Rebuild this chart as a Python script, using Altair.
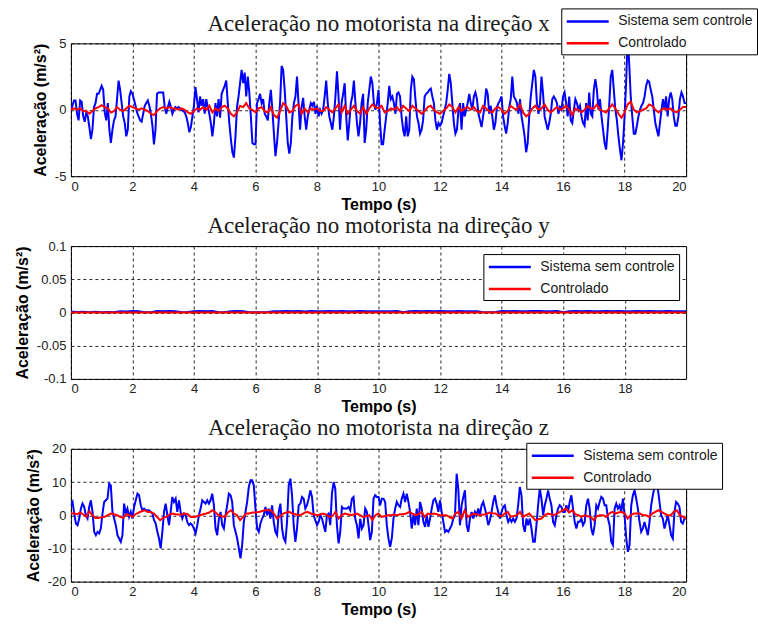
import altair as alt
import pandas as pd

series = ["Sistema sem controle", "Controlado"]
colors = ["#0000ff", "#ff0000"]

# time grids (s)
t_xb = [round(i * 0.05, 2) for i in range(401)]       # x, uncontrolled
t_01 = [round(i * 0.1, 1) for i in range(201)]        # controlled (x and z)
t_y = [round(i * 0.2, 1) for i in range(101)]         # y direction
t_zb = [round(i * 20 / 370, 4) for i in range(371)]   # z, uncontrolled

# ---- direction x (m/s^2) ----
x_sem = [
    0.0, 0.3, 0.7, 0.7, -0.3, -0.8, 0.7, 0.6, -0.5, -0.9,
    -0.2, -0.5, -1.3, -2.2, -1.5, 0.2, 0.5, 1.2, 1.2, 1.5,
    1.8, 1.5, -0.2, -0.8, 0.5, -1.5, -2.5, -1.5, -0.8, -0.5,
    0.8, 2.2, 1.5, 0.5, -0.5, -1.0, -2.0, -1.5, 1.0, 1.4,
    1.2, 0.8, 0.3, -0.2, -0.5, -0.8, -0.9, -0.3, 0.3, 0.5,
    0.7, 0.3, -0.3, -1.2, -2.6, -1.5, 1.2, 1.3, 1.3, 1.3,
    1.3, 0.2, -0.3, 0.2, 0.6, 0.2, -0.3, 0.0, 0.2, 0.1,
    0.2, 0.1, 0.0, -0.1, -0.2, -0.5, -1.0, -1.7, -1.3, -0.5,
    0.3, 1.7, 0.8, -0.2, 1.0, 0.3, 0.8, -0.3, 0.8, 0.2,
    -0.3, -1.0, -2.0, -1.0, 0.5, -0.5, 0.8, -0.6, 1.2, 1.5,
    1.8, 2.2, 0.5, -1.0, -2.2, -3.2, -3.6, -2.0, 0.2, 1.0,
    2.0, 3.0, 2.0, 2.8, 1.0, 2.5, 1.3, -0.5, -2.5, -2.6,
    -2.6, 0.5, 0.8, 1.2, 0.5, 0.8, -0.3, -0.5, -0.8, 0.5,
    1.5, 0.0, -1.8, -3.5, -2.5, -1.0, 0.5, 3.3, 3.0, 1.5,
    -0.5, -2.5, -3.3, -2.5, -0.5, 0.5, 1.0, 2.5, 0.5, -1.5,
    0.2, 0.9, -0.5, -1.5, -0.5, 0.0, 0.5, 0.3, 0.6, -0.3,
    0.3, -0.5, 0.0, -0.3, 0.0, 1.0, 2.2, 0.5, -0.5, -1.0,
    -1.5, -0.5, 1.0, 2.9, 1.0, -1.5, 0.5, 1.2, 2.0, -0.5,
    -2.3, -1.0, 0.5, 1.0, 2.2, 0.5, -1.0, -2.0, -1.0, 0.5,
    1.2, -2.5, -1.5, 0.5, 1.5, 2.5, 2.0, 0.5, 0.0, 0.5,
    1.5, -1.0, -2.6, -2.6, -1.5, -0.5, 0.5, 1.8, 0.8, 1.0,
    0.5, -0.3, 1.2, 1.3, 1.0, -0.5, -1.5, -2.0, -0.5, -2.0,
    -1.5, 1.5, 2.5, 2.3, 0.8, -0.5, -1.0, -1.8, -1.5, -0.8,
    1.0, 1.2, 1.3, 1.5, 1.6, 1.0, 0.5, -0.8, -1.5, -1.0,
    -1.2, -1.0, -0.5, 0.0, 0.5, 1.5, 2.7, 2.0, 0.5, -1.0,
    -1.8, -1.5, 0.0, 0.5, -1.5, 0.5, -0.5, 0.0, 0.5, 1.2,
    0.5, 0.0, 1.0, 1.3, 0.8, -0.3, -0.8, -1.3, -0.5, 0.3,
    1.6, 1.2, -0.3, 0.3, -0.5, -1.5, -1.0, 0.2, 0.5, 0.7,
    1.0, -0.5, -1.2, -1.8, -1.0, 0.2, 0.8, 2.5, 1.0, 0.8,
    0.5, -0.3, 0.8, -0.5, -1.2, -2.0, -3.2, -2.5, -0.5, 1.0,
    2.0, 3.0, 2.5, 0.5, -0.3, 0.5, 2.5, 1.2, -0.5, -1.0,
    -1.5, -1.0, -0.3, 0.8, 1.0, 0.8, 0.5, -0.3, 0.2, 0.0,
    1.0, 1.3, 0.5, -0.5, 1.0, -0.8, -1.0, 0.0, 0.8, 0.5,
    0.0, 0.3, -0.5, -1.0, -1.2, 0.5, -0.8, 1.3, -0.3, -0.5,
    1.5, 2.3, 1.5, 0.0, 0.8, -0.5, -1.5, -2.5, -3.0, -1.5,
    0.3, 2.5, 3.0, 1.5, 0.0, -0.8, -2.0, -3.0, -3.8, -2.5,
    -0.5, 2.0, 5.5, 3.5, 1.0, -0.5, -1.8, -1.8, -1.2, -0.5,
    0.0, 0.3, 0.5, 1.0, 1.8, 2.2, 2.1, 1.5, 1.0, 0.0,
    -1.0, -1.5, -2.0, -1.0, 0.0, 0.8, 0.0, 1.0, -0.5, 0.8,
    1.3, 0.8, -0.5, -1.2, -1.2, -0.5, 0.8, 1.3, 1.0, 0.5,
    0.5,
]
x_con = [
    0.0, 0.1, 0.0, 0.1, -0.1, -0.1, -0.3, -0.1, 0.1, 0.2,
    0.35, 0.2, 0.1, -0.2, -0.1, 0.2, 0.0, -0.1, 0.1, 0.3,
    0.2, 0.1, 0.0, 0.1, 0.0, -0.1, -0.3, -0.4, -0.1, 0.1,
    0.2, 0.1, 0.2, 0.1, 0.1, 0.0, 0.1, 0.0, -0.2, -0.3,
    -0.1, 0.1, 0.0, 0.2, 0.0, 0.3, -0.2, 0.1, -0.1, 0.2,
    0.3, 0.1, -0.3, -0.5, -0.2, 0.3, 0.2, 0.5, 0.1, 0.0,
    -0.2, 0.1, 0.2, -0.1, -0.2, 0.2, -0.4, -0.6, -0.1, 0.5,
    0.3, -0.2, -0.1, 0.3, 0.4, -0.3, 0.1, -0.2, 0.1, 0.0,
    0.1, -0.1, -0.1, 0.2, 0.0, -0.2, 0.1, 0.4, -0.2, 0.3,
    -0.3, 0.0, 0.3, -0.1, -0.3, 0.2, -0.3, 0.1, 0.4, 0.2,
    0.1, 0.3, -0.2, -0.1, 0.1, 0.0, 0.2, -0.1, 0.3, 0.1,
    -0.1, 0.3, 0.1, -0.1, -0.3, -0.1, 0.2, 0.3, 0.0, -0.2,
    -0.3, -0.1, 0.1, 0.4, 0.2, -0.2, 0.2, -0.1, 0.1, 0.2,
    0.0, 0.2, -0.1, -0.2, 0.3, 0.1, -0.1, -0.2, 0.1, 0.2,
    0.0, -0.3, -0.1, 0.3, 0.1, 0.0, 0.4, -0.2, -0.5, -0.3,
    0.1, 0.3, 0.0, 0.1, 0.4, 0.0, -0.2, 0.0, 0.2, 0.0,
    0.1, 0.3, 0.0, -0.4, 0.1, 0.0, -0.2, 0.0, 0.3, 0.1,
    0.1, 0.4, 0.0, -0.1, -0.2, 0.1, 0.4, 0.1, -0.3, -0.6,
    -0.2, 0.4, 0.6, 0.0, -0.2, -0.1, 0.0, 0.1, 0.4, 0.3,
    0.0, -0.2, 0.0, 0.1, 0.0, 0.1, -0.1, -0.2, 0.0, 0.2,
    0.2,
]

# ---- direction y (m/s^2) ----
y_sem = [
    0.0016, 0.0006, 0.0013, 0.0005, 0.0010, 0.0003, 0.0008, 0.0005,
    0.0020, 0.0015, 0.0022, 0.0017,
    0.0005, 0.0003,
    0.0022, 0.0017, 0.0024, 0.0019,
    0.0003, 0.0007,
    0.0020, 0.0024, 0.0017, 0.0022,
    0.0005, 0.0003,
    0.0020, 0.0024, 0.0017,
    0.0003, 0.0005, 0.0003, 0.0007,
    0.0020, 0.0017, 0.0024, 0.0019, 0.0022, 0.0015, 0.0024, 0.0020, 0.0017,
    0.0022, 0.0019, 0.0024, 0.0020, 0.0017, 0.0022, 0.0019, 0.0020, 0.0017,
    0.0020, 0.0017, 0.0022,
    0.0005,
    0.0020, 0.0024, 0.0019, 0.0022, 0.0017, 0.0024, 0.0020, 0.0019, 0.0022, 0.0017, 0.0020, 0.0019,
    0.0005, 0.0003, 0.0007,
    0.0022, 0.0019, 0.0024, 0.0020, 0.0017, 0.0022, 0.0024, 0.0019, 0.0020, 0.0022,
    0.0005,
    0.0020, 0.0024, 0.0019, 0.0022, 0.0017, 0.0020, 0.0024, 0.0019,
    0.0022, 0.0020, 0.0017, 0.0022, 0.0019, 0.0024, 0.0020, 0.0017,
    0.0022, 0.0019, 0.0020, 0.0017,
]
y_con = [
    0.0, 0.0, 0.0, 0.0, 0.0, 0.0, 0.0, 0.0, 0.0, 0.0,
    0.0, 0.0, 0.0, 0.0, 0.0, 0.0, 0.0, 0.0, 0.0, 0.0,
    0.0, 0.0, 0.0, 0.0, 0.0, 0.0, 0.0, 0.0, 0.0, 0.0,
    0.0, 0.0, 0.0, 0.0, 0.0, 0.0, 0.0, 0.0, 0.0, 0.0,
    0.0, 0.0, 0.0, 0.0, 0.0, 0.0, 0.0, 0.0, 0.0, 0.0,
    0.0, 0.0, 0.0, 0.0, 0.0, 0.0, 0.0, 0.0, 0.0, 0.0,
    0.0, 0.0, 0.0, 0.0, 0.0, 0.0, 0.0, 0.0, 0.0, 0.0,
    0.0, 0.0, 0.0, 0.0, 0.0, 0.0, 0.0, 0.0, 0.0, 0.0,
    0.0, 0.0, 0.0, 0.0, 0.0, 0.0, 0.0, 0.0, 0.0, 0.0,
    0.0, 0.0, 0.0, 0.0, 0.0, 0.0, 0.0, 0.0, 0.0, 0.0,
    0.0,
]

# ---- direction z (m/s^2) ----
z_sem = [
    3.0, 4.0, 0.5, -2.5, -3.0, -1.0, 2.0, 3.5, 2.5, 0.0,
    -1.0, 2.5, 4.5, 1.0, -5.0, -6.0, -5.0, -5.5, -4.0, 0.5,
    4.0, 4.5, 5.0, 9.5, 9.0, 1.0, -1.0, -3.0, -6.0, -7.0,
    -8.0, -6.0, 3.5, 0.5, 2.0, -0.5, 1.0, -1.0, 2.5, 4.5,
    6.5, 6.0, 3.0, 1.5, 2.0, 1.5, 1.5, 1.5, 1.0, 0.5,
    -1.5, -2.5, -5.0, -7.0, -10.0, -5.0, 1.0, 3.5, 0.0, -3.0,
    1.0, 5.5, 4.0, 5.0, 1.0, 4.5, 1.0, -1.0, 0.5, 0.0,
    -2.0, -3.0, -2.5, -3.0, -4.0, -5.5, -3.0, 0.0, 2.0, 4.5,
    4.0, 3.5, 4.5, 3.5, 4.5, 6.5, 3.0, -4.0, -6.0, -1.0,
    1.0, -3.0, -4.0, 0.0, 3.0, 6.5, 6.0, 4.0, -3.0, -5.0,
    -7.0, -10.0, -13.0, -9.0, -2.0, 1.0, 4.0, 8.5, 10.5, 10.5,
    9.0, 2.0, -4.0, -5.0, -2.5, -1.0, 0.0, 2.5, 0.0, 2.0,
    -1.0, 3.0, -2.0, -5.0, -6.0, 1.0, 3.5, -4.0, -7.0, -8.0,
    -2.0, 9.0, 11.0, 6.0, -3.0, -8.0, -4.0, 3.0, 3.5, 5.5,
    5.0, 2.0, 3.0, 5.0, 7.5, 5.5, 0.0, -1.5, -3.0, -2.0,
    0.0, -1.0, -3.0, -5.0, 0.0, 0.5, -3.0, 6.5, 10.0, 8.0,
    -3.0, -8.5, -5.0, 2.5, 2.0, 2.0, 2.0, 2.5, 1.5, 5.0,
    5.5, -1.0, -3.0, -7.0, -1.0, -4.0, -3.0, 2.0, 1.0, -3.0,
    -7.5, -5.0, 5.0, 6.0,
    5.5, 5.5, 3.0, 5.0, 5.0, 4.0, -3.0, -7.0, -9.5, -7.0,
    -1.0, 2.0, 4.0, 3.0, 2.5, 5.0, 6.5, 4.0, 6.5, 4.0,
    1.0, -4.0, 0.0, -3.0, 2.0, -3.0, 4.0, 2.0, -2.0, -3.5,
    0.0, -3.5, -1.0, 2.0, 4.5, 5.0, 3.5, 1.0, 4.5, 1.0,
    -2.0, -5.0, -4.5, -5.0, -4.0, -3.0, -1.0, 0.0, 12.5, 8.0,
    -3.0, 3.0, 5.5, 7.5, -3.0, -5.0, -1.0, 1.0, -1.0, 1.0,
    0.0, 2.0, 0.0, 3.0, 4.0, 2.0, 0.0, -3.0, -1.5, 1.0,
    4.0, 6.0, 3.0, 1.0, -1.0, 1.0, 2.5, 3.0, 0.0, -2.0,
    -1.0, -2.0, -1.0, -2.0, -1.0, 3.0, 8.5, 6.0, -3.0, -5.0,
    -1.0, -3.0, -1.0, -4.0, -8.0, -8.0, -3.0, 3.0, 8.0, 5.0,
    0.0, 3.0, 5.0, 7.5, 5.0, 3.0, -2.0, -3.0, 0.0, 2.0,
    3.0, 2.5, 1.0, 1.0, 3.0, 1.0, 4.0, 6.0, 2.0, -2.0,
    -4.0, -2.0, -2.0, -1.0, -3.0, -2.0, 3.0, 5.0, 2.0, -4.0,
    -6.0, -3.0, 3.0, 2.0, 4.0, 5.5, 5.0, 3.0, 3.0, -1.0,
    -3.0, -8.0, -9.0, 2.0, 3.5, 2.0, 3.0, 1.0, 5.0, 0.0,
    -7.0, -11.0, -9.0, 3.0, 6.0, 7.5, 5.0, 2.0, -2.0, -5.0,
    -4.0, -2.0, -4.0, -6.0, -2.0, 3.0, 6.0, 8.5, 9.0, 8.0,
    4.0, 0.0, -1.0, -4.0, -2.0, 0.0, -3.0, -6.0, -7.0, 1.0,
    4.0, 3.5, 2.5, -2.0, -2.5, -1.0, -1.0,
]
z_con = [
    0.5, 0.5, 0.3, 0.8, 0.3, -0.5, 1.2, 0.0, -0.8, -0.8,
    -0.6, -0.5, 0.0, 0.5, 0.3, 0.0, -0.5, -0.8, 0.3, 0.0,
    -0.5, 0.3, 0.8, 1.2, 1.5, 1.0, 1.0, 0.5, -0.5, -1.5,
    -0.8, -0.5, 0.2, 0.5, 0.3, 0.2, 0.2, 0.5, 0.3, -0.5,
    -0.5, -0.3, 0.0, 0.3, 0.5, 0.8, 1.5, 0.8, 0.0, -0.3,
    -0.5, 0.8, 1.5, 0.5, 0.0, -1.5, -0.5, 0.5, 0.5, 0.8,
    0.8, 1.0, 1.2, 1.5, 1.5, 1.5, 0.5, -1.0, -0.3, 0.5,
    0.8, 1.0, 0.5, 0.3, 0.0, 0.2, 0.8, 1.0, 0.5, 0.3,
    0.0, 0.2, 0.5, 0.2, -0.5, -0.3, 1.0, -1.0, 0.0, 0.5,
    0.3, 0.0, 0.2, 0.5, 0.0, -0.5, -0.3, 0.0, -1.5, 0.0,
    0.5, -0.5, -0.3, 0.0, 0.0, 0.2, 0.0, 0.3, 0.3, 0.5,
    1.0, 0.5, 0.0, 0.3, 1.0, -0.5, 0.5, 0.3, 0.5, 0.3,
    0.0, 0.0, 0.0, -0.5, -1.0, 0.5, 1.0, -1.0, 1.5, -0.5,
    0.0, 0.5, 0.2, 0.0, 0.2, 0.3, 0.8, 0.6, 0.5, 0.0,
    -0.3, 0.5, 1.0, -0.5, -0.2, 0.0, 1.0, -0.5, 0.0, 0.5,
    -0.5, -1.5, -1.2, -1.0, 0.0, 0.5, 0.3, 0.0, 0.5, 1.0,
    1.5, 2.0, 0.8, 1.5, 0.3, 0.0, -0.5, 0.0, -0.3, -0.5,
    -1.5, -0.3, 0.0, 0.0, -0.5, 0.5, 1.0, 0.5, 0.8, 1.0,
    0.5, -1.0, 0.0, 0.5, 0.5, 0.5, 0.0, 0.0, -0.5, 0.5,
    1.0, 1.5, 1.0, 0.5, 0.0, 0.0, 1.0, 1.5, 0.0, -0.5,
    -1.0,
]

titles = [
    "Aceleração no motorista na direção x",
    "Aceleração no motorista na direção y",
    "Aceleração no motorista na direção z",
]
x_ticks = [0, 2, 4, 6, 8, 10, 12, 14, 16, 18, 20]
y_ticks_x = [-5, 0, 5]
y_ticks_y = [-0.1, -0.05, 0, 0.05, 0.1]
y_ticks_z = [-20, -10, 0, 10, 20]


def long_df(t_sem, sem, t_con, con):
    return pd.DataFrame({
        "t": list(t_sem) + list(t_con),
        "a": list(sem) + list(con),
        "serie": [series[0]] * len(sem) + [series[1]] * len(con),
    })


W, H = 616, 133


def panel(df, title, xmax, ydom, yticks, lx, ly, tdy):
    base = alt.Chart(df).encode(
        x=alt.X("t:Q",
                scale=alt.Scale(domain=[0, xmax], nice=False, zero=False),
                axis=alt.Axis(values=x_ticks, title="Tempo (s)")),
        y=alt.Y("a:Q",
                scale=alt.Scale(domain=ydom, nice=False),
                axis=alt.Axis(values=yticks, title="Aceleração (m/s²)",
                              labelExpr="'' + datum.value")),
        color=alt.Color("serie:N",
                        scale=alt.Scale(domain=series, range=colors),
                        legend=alt.Legend(
                            orient="none", legendX=lx, legendY=ly, title=None,
                            symbolType="M-1,0H4.6", symbolSize=225,
                            symbolStrokeWidth=2.5,
                            labelFont="Liberation Sans", labelFontSize=14,
                            labelColor="#1a1a1a", labelOffset=35, labelLimit=300,
                            strokeColor="#000000", fillColor="#ffffff",
                            padding=4, rowPadding=6, cornerRadius=0)),
    )
    blue = base.transform_filter(alt.datum.serie == series[0]).mark_line(
        strokeWidth=2, clip=True)
    red = base.transform_filter(alt.datum.serie == series[1]).mark_line(
        strokeWidth=2, clip=True)
    return alt.layer(blue, red).properties(
        width=W, height=H,
        title=alt.TitleParams(title, font="Liberation Serif", fontSize=23,
                              fontWeight="normal", color="#1a1a1a",
                              anchor="middle", frame="group", offset=2, dy=tdy),
    )


p1 = panel(long_df(t_xb, x_sem, t_01, x_con), titles[0], 20, [-5, 5], y_ticks_x, 491, -35, 30)
p2 = panel(long_df(t_y, y_sem, t_y, y_con), titles[1], 19.99, [-0.1, 0.1], y_ticks_y, 413, 8, 0)
p3 = panel(long_df(t_zb, z_sem, t_01, z_con), titles[2], 20, [-20, 20], y_ticks_z, 456, -6, 0)

chart = alt.vconcat(p1, p2, p3, spacing=1).resolve_scale(
    color="independent"
).resolve_legend(color="independent").properties(
    padding={"left": 13, "top": 7, "right": 0, "bottom": 0},
    background="white",
).configure_view(
    stroke="#000000", strokeWidth=1
).configure_axis(
    domain=False, ticks=False, grid=True,
    gridColor="#000000", gridDash=[3, 3], gridOpacity=0.85, gridWidth=1,
    labelFont="Liberation Sans", labelFontSize=13, labelColor="#222222",
    titleFont="Liberation Sans", titleFontSize=16, titleFontWeight="bold",
    titleColor="#000000",
).configure_axisX(
    labelPadding=4, titlePadding=3,
).configure_axisY(
    labelPadding=5, titlePadding=6,
)

chart.save("out.html", embed_options={"renderer": "svg", "actions": False})
